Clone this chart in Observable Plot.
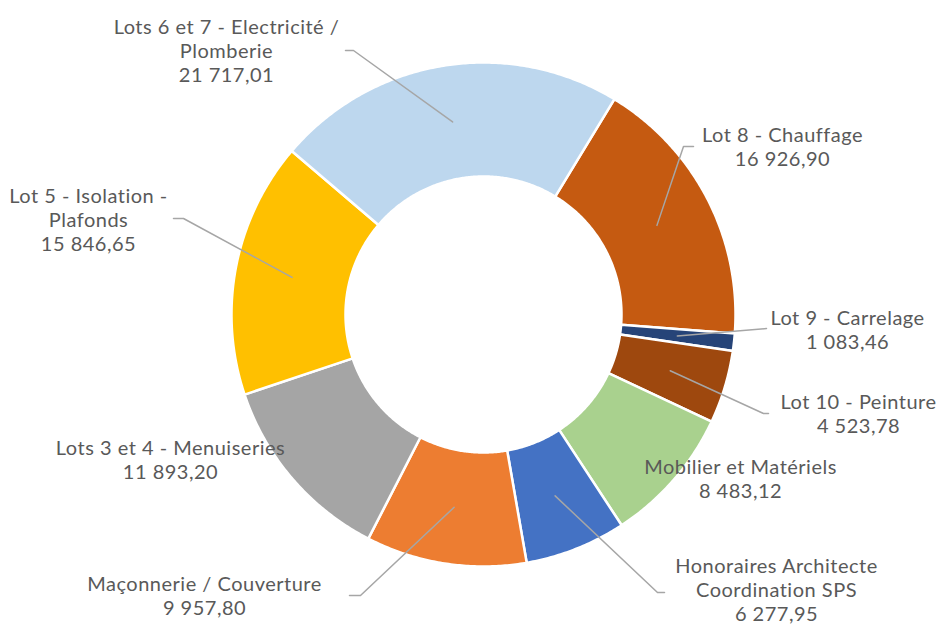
<!DOCTYPE html>
<html><head><meta charset="utf-8">
<script src="https://cdn.jsdelivr.net/npm/d3@7"></script>
<script src="https://cdn.jsdelivr.net/npm/@observablehq/plot@0.6"></script>
<style>html,body{margin:0;padding:0;background:#fff}#chart svg{display:block}#chart text{letter-spacing:0.5px}</style>
</head><body><div id="chart"></div>
<script>
// ---- data ----
const categories = [
  "Lot 8 - Chauffage",
  "Lot 9 - Carrelage",
  "Lot 10 - Peinture",
  "Mobilier et Matériels",
  "Honoraires Architecte\nCoordination SPS",
  "Maçonnerie / Couverture",
  "Lots 3 et 4 - Menuiseries",
  "Lot 5 - Isolation -\nPlafonds",
  "Lots 6 et 7 - Electricité /\nPlomberie"
];
const values = [16926.90, 1083.46, 4523.78, 8483.12, 6277.95, 9957.80, 11893.20, 15846.65, 21717.01];
const colors = ["#C55A11", "#264478", "#9E480E", "#A9D18E", "#4472C4", "#ED7D31", "#A5A5A5", "#FFC000", "#BDD7EE"];

// ---- layout (pixels) ----
const W = 940, H = 626, CX = 483, CY = 314, R_OUT = 252, R_IN = 138;
const START_DEG = 31.3;
// label block centres and leader stubs (label end, elbow); null = no leader
const labelLayout = [
  {x: 782, y: 145.5, stub: [[693, 146], [683, 146]]},
  {x: 847, y: 329,   stub: [[766, 328], [766, 328]]},
  {x: 858, y: 413,   stub: [[768, 413], [763, 413]]},
  {x: 740, y: 478,   stub: null},
  {x: 776, y: 589,   stub: [[664, 592], [657, 592]]},
  {x: 204, y: 595,   stub: [[349, 595], [360, 595]]},
  {x: 170, y: 459,   stub: null},
  {x: 88,  y: 218.5, stub: [[173, 218], [183, 218]]},
  {x: 226, y: 49.5,  stub: [[345, 50], [353, 50]]}
];

const fr = d3.formatLocale({decimal: ",", thousands: " ", grouping: [3], currency: ["", ""]});
const fmt = fr.format(",.2f");

const a0 = START_DEG * Math.PI / 180;
const arcs = d3.pie().sort(null).startAngle(a0).endAngle(a0 + 2 * Math.PI)(values);

const px = (r, a) => CX + r * Math.sin(a);
const py = (r, a) => CY - r * Math.cos(a);

const slicePts = [];
arcs.forEach((arc, i) => {
  const n = Math.max(2, Math.ceil((arc.endAngle - arc.startAngle) / (Math.PI / 360)));
  for (let k = 0; k <= n; k++) {
    const a = arc.startAngle + (arc.endAngle - arc.startAngle) * k / n;
    slicePts.push({name: categories[i], color: colors[i], x: px(R_OUT, a), y: py(R_OUT, a)});
  }
  for (let k = n; k >= 0; k--) {
    const a = arc.startAngle + (arc.endAngle - arc.startAngle) * k / n;
    slicePts.push({name: categories[i], color: colors[i], x: px(R_IN, a), y: py(R_IN, a)});
  }
});

const leaderPts = [];
arcs.forEach((arc, i) => {
  const L = labelLayout[i];
  if (!L.stub) return;
  const mid = (arc.startAngle + arc.endAngle) / 2;
  const rm = (R_OUT + R_IN) / 2;
  leaderPts.push({name: categories[i], x: L.stub[0][0], y: L.stub[0][1]});
  leaderPts.push({name: categories[i], x: L.stub[1][0], y: L.stub[1][1]});
  leaderPts.push({name: categories[i], x: px(rm, mid), y: py(rm, mid)});
});

const labels = categories.map((c, i) => ({
  text: c + "\n" + fmt(values[i]),
  x: labelLayout[i].x,
  y: labelLayout[i].y
}));

const chart = Plot.plot({
  width: W, height: H, margin: 0,
  x: {domain: [0, W], range: [0, W], axis: null},
  y: {domain: [0, H], range: [0, H], axis: null},
  color: {type: "identity"},
  style: {background: "#fff"},
  marks: [
    Plot.line(slicePts, {x: "x", y: "y", z: "name", fill: "color", stroke: "#fff", strokeWidth: 2.5, curve: "linear-closed"}),
    Plot.line(leaderPts, {x: "x", y: "y", z: "name", stroke: "#A6A6A6", strokeWidth: 1.5}),
    Plot.text(labels, {x: "x", y: "y", text: "text", fill: "#595959", fontSize: 20, fontFamily: "Lato", lineHeight: 1.2, textAnchor: "middle"})
  ]
});
document.getElementById("chart").appendChild(chart);
</script>
</body></html>
